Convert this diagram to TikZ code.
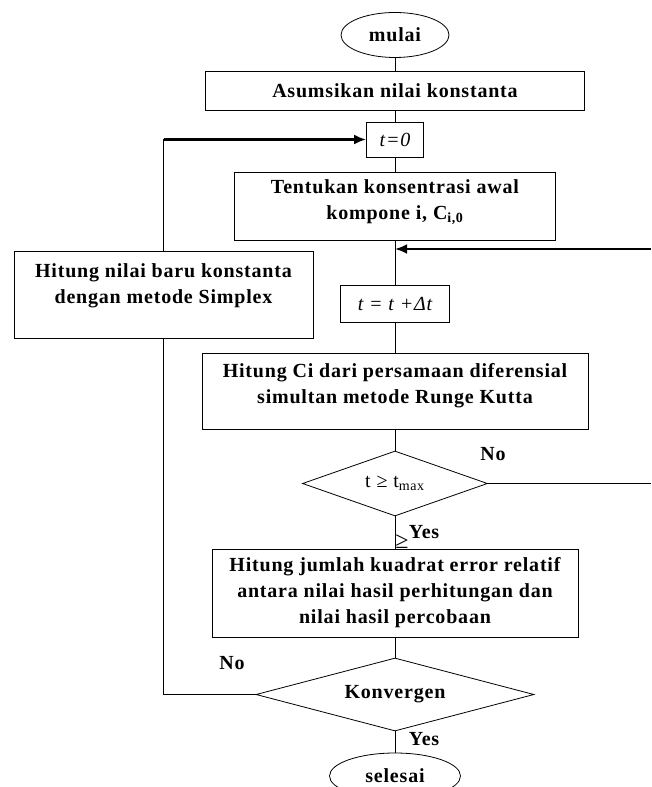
\documentclass[tikz,border=0pt]{standalone}
\usepackage{fontspec}
\setmainfont{Liberation Serif}[LetterSpace=4]
\usetikzlibrary{shapes.geometric,arrows.meta}
\tikzset{
  box/.style={draw, rectangle, line width=0.6pt, align=center, inner sep=0pt,
    font=\bfseries\fontsize{15}{19.5}\selectfont},
  term/.style={draw, ellipse, line width=0.6pt, inner sep=0pt,
    font=\bfseries\fontsize{15}{17}\selectfont},
  decision/.style={draw, diamond, line width=0.6pt, inner sep=0pt, aspect=#1},
  lbl/.style={font=\bfseries\fontsize{15}{17}\selectfont},
  flow/.style={line width=2pt, -{Latex[length=9pt,width=7.5pt]}},
}
\begin{document}
\begin{tikzpicture}[x=0.75pt, y=-0.75pt, line width=0.6pt]
\useasboundingbox (0,0) rectangle (651,787);
\clip (0,0) rectangle (651,787);
% main column
\node [term, minimum width=81pt, minimum height=33.75pt] (start) at (395,35) {mulai};
\node [box, minimum width=284.25pt, minimum height=29.25pt] (asum) at (395,90.5) {Asumsikan nilai konstanta};
\node [box, minimum width=42.75pt, minimum height=26.25pt, font=\itshape\fontsize{15}{17}\selectfont] (t0) at (395,139.5) {t=0};
\node [box, minimum width=240.75pt, minimum height=51pt, text depth=10pt] (tentukan) at (395,206) {Tentukan konsentrasi awal\\kompone i, C\textsubscript{i,0}};
\node [box, minimum width=81.75pt, minimum height=27.75pt, font=\itshape\fontsize{15}{17}\selectfont] (tdt) at (395,303.5) {t = t +Δt};
\node [box, minimum width=289.5pt, minimum height=57pt, text depth=11pt] (hitci) at (395,391) {Hitung Ci dari persamaan diferensial\\simultan metode Runge Kutta};
\node [decision=2.85, minimum width=138.75pt, minimum height=48.75pt, font=\fontsize{15}{17}\selectfont] (dec1) at (395,483.5) {t ≥ t\textsubscript{max}};
\node [box, minimum width=274.5pt, minimum height=66pt] (hitjml) at (395,593) {Hitung jumlah kuadrat error relatif\\antara nilai hasil perhitungan dan\\nilai hasil percobaan};
\node [decision=3.8, minimum width=208.5pt, minimum height=54.75pt, font=\bfseries\fontsize{15}{17}\selectfont] (dec2) at (395,694.5) {Konvergen};
\node [term, minimum width=98.25pt, minimum height=34.5pt] (stop) at (395,776) {selesai};
% left box
\node [box, minimum width=224.25pt, minimum height=65.25pt, text depth=17pt] (simplex) at (163.5,294.5) {Hitung nilai baru konstanta\\dengan metode Simplex};
% labels
\node [lbl] (no1) at (493,454) {No};
\node [lbl] (yes1) at (424,532) {Yes};
\node [font=\fontsize{18}{20}\selectfont, inner sep=0pt] (ge) at (402,542) {≥};
\node [lbl] (no2) at (232,663) {No};
\node [lbl] (yes2) at (424,739) {Yes};
% connectors
\draw (start) -- (asum);
\draw (asum) -- (t0);
\draw (t0) -- (tentukan);
\draw (tentukan) -- (tdt);
\draw (tdt) -- (hitci);
\draw (hitci) -- (dec1);
\draw (dec1) -- (hitjml);
\draw (hitjml) -- (dec2);
\draw (dec2) -- (stop);
% loop back to t=0
\coordinate (c1) at (simplex.north |- t0.west);
\draw (dec2.west) -| (simplex.south);
\draw (simplex.north) -- (c1);
\draw [flow] (c1) -- (t0.west);
% loop back to t = t + dt
\coordinate (r1) at (651,483.5);
\coordinate (r2) at (651,249);
\coordinate (m) at (tdt.north |- r2);
\draw (dec1.east) -- (r1);
\draw [flow] (r2) -- (m);
\end{tikzpicture}
\end{document}
